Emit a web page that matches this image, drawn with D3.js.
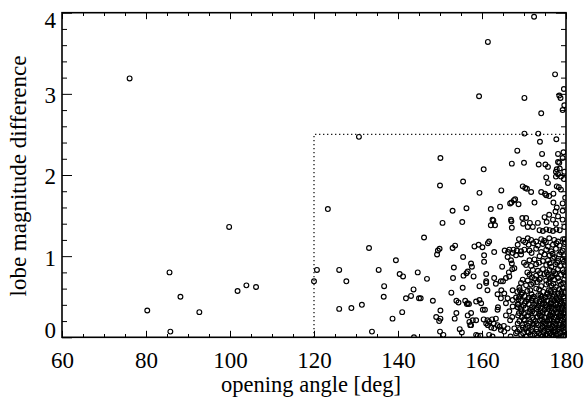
<!DOCTYPE html>
<html>
<head>
<meta charset="utf-8">
<script src="https://cdn.jsdelivr.net/npm/d3@7"></script>
<style>
  body { margin: 0; background: #fff; }
</style>
</head>
<body>
<div id="chart"></div>
<script>
// Tick values
const xTicks = [60, 80, 100, 120, 140, 160, 180];
const yTicks = [0, 1, 2, 3, 4];

// Selection box drawn dotted (opening angle > 120, difference < 2.5)
const cutAngle = 120;
const cutDiff = 2.5;

// [opening angle, lobe magnitude difference]
const lowAngle = [
  [76.1, 3.19], [80.3, 0.33], [85.6, 0.80], [85.8, 0.07], [88.2, 0.50], [92.7, 0.31],
  [99.8, 1.36], [101.8, 0.57], [103.9, 0.64], [106.2, 0.62]
];

const midAngle = [
  [120.0, 0.69], [120.7, 0.83], [123.3, 1.58], [126.0, 0.83], [126.0, 0.35], [127.7, 0.69],
  [128.9, 0.36], [130.7, 2.47], [131.4, 0.40], [133.1, 1.10], [133.8, 0.07], [135.4, 0.83],
  [136.7, 0.63], [136.6, 0.50], [138.7, 0.23], [139.5, 0.95], [140.4, 0.78], [141.2, 0.75],
  [141.0, 0.31], [141.9, 0.48], [143.1, 0.51], [143.7, 0.59], [143.8, 0.00], [144.7, 0.80],
  [145.0, 0.48], [145.4, 0.48], [146.2, 1.23], [146.9, 0.72], [148.3, 0.45], [149.1, 0.25],
  [149.3, 1.02], [149.5, 1.07], [149.8, 0.20], [149.9, 1.09]
];

const highAngle = [
  [150.0, 1.87], [150.1, 2.21], [150.6, 1.41], [150.1, 0.33], [150.1, 0.23], [150.0, 0.07],
  [150.8, 0.03], [152.7, 0.55], [153.0, 1.56], [153.0, 1.10], [153.6, 1.13], [153.1, 0.73],
  [153.3, 0.86], [153.9, 0.45], [154.4, 0.43], [153.9, 0.30], [153.5, 0.23], [154.7, 0.10],
  [155.2, 0.06], [155.3, 1.42], [155.5, 1.92], [155.5, 0.99], [155.4, 0.61], [155.6, 0.76],
  [156.0, 0.45], [156.4, 0.41], [156.9, 0.41], [156.3, 1.59], [156.3, 0.79], [156.6, 0.42],
  [156.6, 0.27], [156.6, 0.81], [157.4, 0.30], [157.4, 0.91], [157.6, 0.87], [157.2, 0.15],
  [157.8, 0.21], [157.0, 0.19], [157.4, 0.15], [158.0, 0.75], [158.2, 1.12], [158.6, 0.21],
  [158.6, 0.44], [158.6, 0.03], [159.0, 0.02], [159.2, 1.14], [159.3, 2.97], [159.4, 1.78],
  [159.4, 0.63], [159.4, 0.46], [159.6, 0.02], [159.8, 0.42], [160.1, 1.11], [160.2, 0.34],
  [160.4, 2.07], [160.4, 0.22], [160.5, 1.01], [160.5, 0.93], [160.7, 0.34], [161.0, 0.78],
  [161.0, 0.69], [161.0, 0.17], [161.0, 0.67], [161.3, 0.58], [161.3, 0.21], [161.4, 3.64],
  [161.4, 1.16], [161.4, 0.15], [161.7, 1.18], [161.7, 0.19], [161.7, 0.03], [162.1, 1.58],
  [162.1, 1.38], [162.2, 0.12], [162.4, 0.22], [162.5, 1.45], [162.5, 0.01], [162.7, 1.44],
  [162.8, 0.17], [162.9, 1.05], [162.9, 0.73], [162.9, 0.11], [163.1, 1.38], [163.3, 0.66],
  [163.3, 0.23], [163.7, 0.53], [163.7, 0.34], [163.7, 0.15], [163.8, 0.37], [164.2, 0.13],
  [164.3, 1.61], [164.5, 0.48], [164.5, 0.09], [164.5, 0.69], [164.6, 1.81], [164.6, 0.58],
  [164.8, 0.87], [165.0, 0.69], [165.2, 0.14], [165.3, 0.54], [165.3, 0.07], [165.4, 1.07],
  [165.7, 0.73], [165.7, 0.42], [165.7, 0.27], [166.1, 0.48], [166.1, 0.99], [166.1, 0.11],
  [166.2, 1.05], [166.4, 0.80], [166.5, 1.08], [166.5, 0.32], [166.5, 0.75], [166.7, 0.21],
  [166.7, 1.65], [166.8, 0.01], [166.9, 0.95], [166.9, 1.45], [167.0, 1.66], [167.0, 1.43],
  [167.1, 1.35], [167.1, 0.91], [167.1, 2.14], [167.2, 0.84], [167.2, 0.25], [167.3, 0.46],
  [167.3, 0.38], [167.3, 0.58], [167.3, 1.04], [167.5, 1.08], [167.6, 1.69], [167.7, 0.85],
  [167.7, 0.11], [167.9, 1.70], [168.1, 0.49], [168.1, 0.05], [168.4, 2.30], [168.3, 1.07],
  [168.5, 0.41]
];

const denseUpper = [
  [168.7, 1.64], [169.3, 1.06], [169.6, 1.47], [169.7, 1.86], [169.8, 1.40], [170.0, 2.15],
  [170.1, 2.51], [170.1, 2.95], [170.3, 1.84], [170.5, 1.47], [170.7, 1.83], [170.9, 1.36],
  [171.1, 1.14], [171.4, 1.41], [171.7, 1.79], [172.1, 1.36], [172.4, 3.95], [172.5, 1.66],
  [173.3, 1.41], [173.4, 2.51], [173.5, 2.13], [173.7, 1.32], [173.8, 2.41], [174.1, 1.79],
  [174.1, 2.76], [174.3, 2.26], [174.5, 1.31], [174.9, 1.48], [175.0, 1.77], [175.1, 2.13],
  [175.3, 1.97], [175.3, 1.75], [175.3, 1.33], [175.4, 1.42], [175.7, 2.10], [175.7, 1.90],
  [176.0, 1.74], [176.0, 1.51], [176.1, 1.32], [176.9, 1.45], [176.9, 1.31], [177.0, 1.77],
  [177.0, 1.66], [177.4, 3.24], [177.5, 1.55], [177.6, 1.98], [177.6, 1.40], [177.6, 2.04],
  [177.7, 2.44], [177.7, 1.33], [177.8, 2.07], [177.8, 1.86], [177.8, 1.60], [178.1, 2.26],
  [178.1, 2.16], [178.1, 2.01], [178.1, 1.49], [178.3, 1.85], [178.4, 2.98], [178.4, 2.15],
  [178.5, 2.08], [178.5, 1.32], [178.7, 2.95], [178.8, 1.82], [178.8, 1.98], [179.2, 2.80],
  [179.2, 2.21], [179.2, 1.65], [179.2, 1.56], [179.2, 1.45], [179.4, 2.28], [179.5, 3.06],
  [179.5, 1.95], [179.6, 2.86], [179.6, 2.04], [179.6, 1.36], [179.8, 1.72], [179.7, 1.21]
];

const denseMiddle = [
  [168.8, 1.21], [169.8, 1.19], [170.9, 1.22], [171.7, 1.20], [172.9, 1.18], [174.1, 1.21],
  [174.8, 1.19], [176.0, 1.22], [177.2, 1.20], [178.1, 1.18], [179.3, 1.21],
  [170.3, 1.17], [172.2, 1.16], [175.2, 1.17], [177.7, 1.16], [179.8, 1.17],
  [168.5, 1.14], [173.3, 1.13], [174.5, 1.15], [175.7, 1.12], [176.9, 1.14], [178.5, 1.13], [179.6, 1.15],
  [170.1, 1.08], [171.3, 1.07], [172.9, 1.09], [175.3, 1.08], [176.5, 1.06], [177.6, 1.09], [179.2, 1.07],
  [171.8, 1.04], [174.1, 1.05], [176.8, 1.03], [178.8, 1.05],
  [168.1, 1.01], [169.3, 1.02], [173.7, 1.00], [174.9, 1.02], [176.1, 1.01], [177.2, 0.99], [178.4, 1.02], [179.6, 1.00],
  [171.3, 0.95], [172.5, 0.96], [174.5, 0.94], [175.7, 0.95], [176.9, 0.97], [178.1, 0.94], [179.2, 0.96],
  [170.0, 0.92], [173.6, 0.92], [176.1, 0.91], [177.9, 0.92], [179.5, 0.93],
  [170.5, 0.89], [171.7, 0.88], [172.9, 0.90], [175.3, 0.89], [176.5, 0.87], [177.5, 0.90], [178.6, 0.88], [179.8, 0.89],
  [172.1, 0.83], [173.3, 0.82], [174.5, 0.84], [176.1, 0.83], [177.0, 0.81], [178.1, 0.84], [179.2, 0.83],
  [170.8, 0.80], [173.8, 0.79], [175.4, 0.80], [177.4, 0.79], [179.5, 0.80],
  [171.3, 0.77], [172.9, 0.76], [174.9, 0.78], [175.7, 0.77], [176.7, 0.75], [177.6, 0.78], [178.8, 0.77], [179.9, 0.76],
  [171.9, 0.74], [174.0, 0.73], [176.4, 0.74], [178.1, 0.73],
  [169.7, 0.71], [170.9, 0.70], [172.5, 0.72], [173.7, 0.71], [175.3, 0.70], [176.1, 0.72], [177.2, 0.71], [178.4, 0.69], [179.6, 0.71],
  [169.3, 0.67], [172.2, 0.67], [173.1, 0.68], [175.9, 0.67], [177.0, 0.66], [179.3, 0.67],
  [170.5, 0.64], [171.7, 0.65], [174.1, 0.63], [175.3, 0.65], [176.5, 0.64], [177.6, 0.62], [178.8, 0.65],
  [168.9, 0.61], [172.9, 0.60], [177.2, 0.59], [179.2, 0.61]
];

const denseLower = [
  [169.0, 0.58], [171.5, 0.58], [173.6, 0.59], [175.9, 0.58], [178.4, 0.59],
  [168.4, 0.56], [169.6, 0.55], [170.8, 0.57], [174.6, 0.56], [175.6, 0.55], [176.4, 0.57], [177.3, 0.56], [178.1, 0.54], [178.9, 0.56], [179.7, 0.55],
  [169.4, 0.53], [171.8, 0.53], [173.9, 0.52], [175.5, 0.53], [177.2, 0.52], [179.0, 0.53],
  [168.9, 0.50], [170.1, 0.51], [171.2, 0.49], [172.3, 0.50], [173.4, 0.52], [174.2, 0.50], [175.1, 0.49], [176.0, 0.51], [176.8, 0.50], [177.7, 0.48], [178.5, 0.51], [179.4, 0.50],
  [168.7, 0.47], [171.0, 0.47], [172.1, 0.48], [174.1, 0.47], [176.7, 0.47], [178.4, 0.47], [179.6, 0.48],
  [169.3, 0.45], [170.5, 0.44], [171.8, 0.46], [172.8, 0.45], [173.8, 0.44], [174.7, 0.46], [175.5, 0.45], [176.4, 0.43], [177.2, 0.45], [178.0, 0.46], [178.9, 0.44], [179.8, 0.45],
  [170.2, 0.42], [172.9, 0.42], [174.8, 0.42], [176.5, 0.41], [178.7, 0.42],
  [168.6, 0.40], [169.9, 0.39], [171.1, 0.41], [172.4, 0.40], [173.5, 0.39], [174.4, 0.41], [175.2, 0.40], [176.1, 0.38], [176.9, 0.40], [177.6, 0.41], [178.4, 0.39], [179.2, 0.40], [179.9, 0.38],
  [168.5, 0.37], [171.9, 0.37], [173.3, 0.37], [175.4, 0.37], [177.9, 0.37],
  [169.2, 0.35], [170.4, 0.36], [171.6, 0.34], [173.0, 0.35], [174.0, 0.36], [174.9, 0.34], [175.8, 0.35], [176.6, 0.36], [177.4, 0.34], [178.2, 0.35], [179.0, 0.36], [179.7, 0.34],
  [169.4, 0.32], [172.0, 0.32], [174.0, 0.32], [176.6, 0.32], [178.9, 0.32], [179.8, 0.31],
  [168.8, 0.30], [170.0, 0.29], [171.3, 0.31], [172.6, 0.30], [173.6, 0.29], [174.5, 0.31], [175.4, 0.30], [176.2, 0.28], [177.0, 0.30], [177.8, 0.31], [178.6, 0.29], [179.4, 0.30],
  [168.6, 0.27], [171.0, 0.27], [173.8, 0.27], [176.3, 0.27], [178.7, 0.27],
  [169.5, 0.25], [170.7, 0.26], [172.0, 0.24], [173.2, 0.25], [174.2, 0.26], [175.0, 0.24], [175.9, 0.25], [176.7, 0.26], [177.5, 0.24], [178.3, 0.25], [179.1, 0.26], [179.8, 0.24],
  [170.0, 0.22], [172.3, 0.22], [174.3, 0.22], [176.0, 0.22], [178.0, 0.22], [179.3, 0.22],
  [168.9, 0.20], [170.2, 0.21], [171.5, 0.19], [172.7, 0.20], [173.8, 0.21], [174.7, 0.19], [175.5, 0.20], [176.3, 0.21], [177.1, 0.19], [177.9, 0.20], [178.7, 0.21], [179.5, 0.19],
  [168.5, 0.17], [171.2, 0.17], [173.0, 0.17], [175.0, 0.17], [177.4, 0.17], [179.6, 0.17],
  [169.6, 0.15], [170.9, 0.14], [172.2, 0.16], [173.4, 0.15], [174.4, 0.14], [175.2, 0.16], [176.0, 0.15], [176.8, 0.14], [177.6, 0.16], [178.4, 0.15], [179.2, 0.14], [179.9, 0.16],
  [169.7, 0.12], [172.0, 0.12], [174.4, 0.12], [176.2, 0.12], [178.5, 0.12],
  [169.0, 0.10], [170.4, 0.11], [171.7, 0.09], [173.0, 0.10], [174.0, 0.11], [174.9, 0.09], [175.7, 0.10], [176.5, 0.11], [177.3, 0.09], [178.1, 0.10], [178.9, 0.11], [179.6, 0.09],
  [168.4, 0.07], [170.8, 0.07], [173.1, 0.07], [175.8, 0.07], [177.5, 0.07], [179.8, 0.07],
  [169.8, 0.05], [171.1, 0.06], [172.5, 0.04], [173.6, 0.05], [174.6, 0.06], [175.4, 0.04], [176.2, 0.05], [177.0, 0.06], [177.8, 0.04], [178.6, 0.05], [179.4, 0.06],
  [169.3, 0.03], [171.5, 0.03], [174.0, 0.03], [176.6, 0.03], [178.2, 0.03],
  [170.5, 0.01], [172.0, 0.02], [173.3, 0.00], [174.3, 0.01], [175.1, 0.02], [176.0, 0.00], [176.9, 0.01], [177.7, 0.02], [178.5, 0.00], [179.3, 0.01], [179.9, 0.02]
];

const allPoints = [].concat(lowAngle, midAngle, highAngle, denseUpper, denseMiddle, denseLower);

const W = 584, H = 399;
const box = {left: 62, right: 566, top: 12.7, bottom: 337.3};
const serif = '"Liberation Serif", "Times New Roman", serif';

const svg = d3.select("#chart").append("svg")
    .attr("width", W)
    .attr("height", H);

const x = d3.scaleLinear().domain([60, 180]).range([box.left, box.right]);
const y = d3.scaleLinear().domain([0, 4]).range([box.bottom, box.top]);

svg.append("defs").append("clipPath")
    .attr("id", "plot-clip")
    .append("rect")
    .attr("x", box.left)
    .attr("y", box.top)
    .attr("width", box.right - box.left)
    .attr("height", box.bottom - box.top);

// Points
svg.append("g")
    .attr("clip-path", "url(#plot-clip)")
    .selectAll("circle")
    .data(allPoints)
    .join("circle")
    .attr("cx", d => x(d[0]))
    .attr("cy", d => y(d[1]))
    .attr("r", 2.4)
    .attr("fill", "none")
    .attr("stroke", "#000")
    .attr("stroke-width", 1.15);

// Dotted selection limits
svg.append("path")
    .attr("d", `M${x(cutAngle)},${y(0)}V${y(cutDiff)}H${x(180)}`)
    .attr("fill", "none")
    .attr("stroke", "#000")
    .attr("stroke-width", 1.2)
    .attr("stroke-dasharray", "1.2,2.8");

// Axes with inward ticks on all four sides
const xMinor = d3.range(60, 181, 5).filter(v => v % 20 !== 0);
const yMinor = d3.range(1, 20).filter(v => v % 5 !== 0).map(v => v / 5);

function ticks(axis, tr) {
    const g = svg.append("g").attr("transform", tr).call(axis);
    g.select(".domain").remove();
    g.attr("font-family", serif).attr("font-size", 23);
    g.selectAll("line").attr("stroke-width", 1);
    g.selectAll("text").attr("fill", "#000");
    return g;
}

const fmt = d3.format("d");
ticks(d3.axisBottom(x).tickValues(xTicks).tickSize(-6.5).tickPadding(14).tickFormat(fmt), `translate(0,${box.bottom})`);
ticks(d3.axisBottom(x).tickValues(xMinor).tickSize(-3.3).tickFormat(""), `translate(0,${box.bottom})`);
ticks(d3.axisTop(x).tickValues(xTicks).tickSize(-6.5).tickFormat(""), `translate(0,${box.top})`);
ticks(d3.axisTop(x).tickValues(xMinor).tickSize(-3.3).tickFormat(""), `translate(0,${box.top})`);

const gy = ticks(d3.axisLeft(y).tickValues(yTicks).tickSize(-10).tickPadding(6).tickFormat(fmt), `translate(${box.left},0)`);
ticks(d3.axisLeft(y).tickValues(yMinor).tickSize(-5).tickFormat(""), `translate(${box.left},0)`);
ticks(d3.axisRight(y).tickValues(yTicks).tickSize(-10).tickFormat(""), `translate(${box.right},0)`);
ticks(d3.axisRight(y).tickValues(yMinor).tickSize(-5).tickFormat(""), `translate(${box.right},0)`);

// end labels sit inside the frame height, as in the reference
gy.selectAll("text")
    .attr("dy", "0.39em")
    .attr("y", d => d === 0 ? -8.3 : d === 4 ? 6.3 : 0);

// Frame
svg.append("rect")
    .attr("x", box.left)
    .attr("y", box.top)
    .attr("width", box.right - box.left)
    .attr("height", box.bottom - box.top)
    .attr("fill", "none")
    .attr("stroke", "#000")
    .attr("stroke-width", 1.6);

// Axis titles
svg.append("text")
    .attr("x", 311)
    .attr("y", 392)
    .attr("text-anchor", "middle")
    .attr("font-family", serif)
    .attr("font-size", 22.5)
    .text("opening angle [deg]");

svg.append("text")
    .attr("transform", "translate(26,176) rotate(-90)")
    .attr("text-anchor", "middle")
    .attr("font-family", serif)
    .attr("font-size", 23)
    .text("lobe magnitude difference");
</script>
</body>
</html>
